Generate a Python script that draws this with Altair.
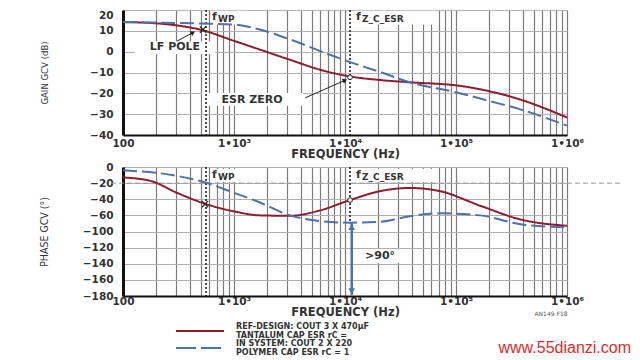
import altair as alt
import pandas as pd

# ---------------- data ----------------
series_names = ["REF-DESIGN", "IN SYSTEM"]

gain_freq_ref = [100, 175, 306, 494, 1000, 1710, 3190, 5910, 11100, 20600, 38300, 108000, 200000, 380000, 1000000]
gain_ref = [14.2, 13.8, 12.6, 10.6, 5.2, 1.0, -3.9, -8.6, -11.9, -13.6, -14.7, -16.4, -19.0, -23.0, -31.6]
gain_freq_sys = [100, 175, 306, 494, 1000, 1710, 3190, 5910, 11100, 20600, 38300, 100000, 200000, 380000, 1000000]
gain_sys = [14.2, 14.0, 13.8, 13.5, 13.0, 10.6, 5.9, 0.4, -5.0, -9.7, -14.7, -19.5, -23.7, -27.7, -35.5]

phase_freq_ref = [100, 175, 306, 560, 1000, 1710, 3190, 5910, 11100, 20600, 38300, 72000, 165000, 380000, 1000000]
phase_ref = [-13, -17, -32, -46, -55, -60, -61, -54, -41, -30, -26, -30, -48, -70, -86]
phase_freq_sys = [100, 306, 560, 1000, 1710, 3190, 5910, 11100, 20600, 38300, 72000, 165000, 380000, 1000000]
phase_sys = [-4, -11, -19.5, -32, -44, -60, -74, -78, -76, -62, -57.5, -60, -82, -90]

gain_ticks = [20, 10, 0, -10, -20, -30, -40]
phase_ticks = [0, -20, -40, -60, -100, -120, -140, -160, -180]
decades = [100, 1000, 10000, 100000, 1000000]
decade_labels = ["100", "1•10³", "1•10⁴", "1•10⁵", "1•10⁶"]

legend_ref = ["REF-DESIGN: COUT 3 X 470µF", "TANTALUM CAP ESR rC ="]
legend_sys = ["IN SYSTEM: COUT 2 X 220", "POLYMER CAP ESR rC = 1"]

f_wp = 560
f_z_esr = 11100
phase_ref_line = -20

# annotation anchor points (data units)
lf_pole = (526, 10.6)
esr_zero = (11100, -12.3)
lf_pole_ph = (548, -46)
esr_zero_ph = (11100, -41)
lf_arrow = (306, 5.0, 427, 9.2)
esr_arrow = (4370, -22.2, 10000, -13.75)
lf_text = (294, 2.2)
esr_text = (1452, -23.1)
lf_box = (128, 674, -1.1, 5.0)
esr_box = (515, 4186, -26.0, -19.8)
fwp_box_top = (608, 1337, 13.0, 19.6)
fz_box_top = (12300, 67400, 13.0, 19.6)
flabel_top_y = 16.5
fwp_box_bot = (608, 1337, -18.6, -2.5)
fz_box_bot = (12300, 67400, -18.6, -2.5)
flabel_bot_y = -10
arrow90 = (11500, -79, -179)
gt90_text = (20700, -130)
gt90_box = (14200, 31300, -139, -122)

# ---------------- style ----------------
W, H_TOP, H_BOT = 444, 125, 129
RED = "#8b1c32"
BLUE = "#4d71a8"
INK = "#222222"
FONT = "DejaVu Sans"
NARROW = "DejaVu Sans Condensed, Liberation Sans, sans-serif"

grid_vals = [k * 10 ** n for n in range(2, 6) for k in range(1, 10)] + [1000000]
label_expr = " : ".join(f"datum.value == {d} ? '{l}'" for d, l in zip(decades, decade_labels)) + " : ''"

x_scale = alt.Scale(type="log", domain=[100, 1000000], nice=False)


def make_x_axis(label_pad):
    return alt.Axis(values=grid_vals, labelExpr=label_expr, title="FREQUENCY (Hz)", ticks=False,
                    grid=True, gridColor="#7a7a7a", gridWidth=1.2, domainColor="#111", domainWidth=2,
                    labelPadding=label_pad, labelFontSize=10.5, labelFontWeight="bold", labelColor="#333",
                    labelOverlap=False, labelFlush=False, titlePadding=0, titleFontSize=11.5,
                    titleFontWeight="bold", titleColor="#333")


y_top_scale = alt.Scale(domain=[-40, 20], nice=False, zero=False)
y_top_axis = alt.Axis(values=gain_ticks, title="GAIN GCV (dB)", ticks=False, grid=True,
                      gridColor="#b0b0b0", domainColor="#111", domainWidth=3, labelPadding=10,
                      labelFontSize=10.5, labelFontWeight="bold", labelColor="#333",
                      labelBaseline={"condition": {"test": "datum.value == 20", "value": "top"}, "value": "middle"},
                      titleX=-74, titleFont=NARROW, titleFontSize=9.5,
                      titleFontWeight="normal", titleColor="#333")

# phase axis as drawn: equal spacing between the printed labels
y_bot_scale = alt.Scale(domain=[-180, -100, -60, 0], range=[H_BOT, H_BOT * 4 / 8, H_BOT * 3 / 8, 0],
                        nice=False, zero=False)
y_bot_axis = alt.Axis(values=phase_ticks, title="PHASE GCV (°)", ticks=False, grid=True,
                      gridColor="#b0b0b0", domainColor="#111", domainWidth=3, labelPadding=10,
                      labelFontSize=10.5, labelFontWeight="bold", labelColor="#333",
                      titleX=-74, titleFont=NARROW, titleFontSize=10.5,
                      titleFontWeight="normal", titleColor="#333")

color_scale = alt.Scale(domain=series_names, range=[RED, BLUE])
dash_scale = alt.Scale(domain=series_names, range=[[1, 0], [14, 5]])


def long_df(fr, vr, fs, vs):
    return pd.DataFrame({
        "f": fr + fs,
        "v": vr + vs,
        "series": [series_names[0]] * len(fr) + [series_names[1]] * len(fs),
    })


def panel(df_lines, x_axis, y_scale, y_axis, h, boxes, text_items, markers_x, markers_o, rules_fn, arrows,
          extra_fn=None):
    def X(field="f"):
        return alt.X(f"{field}:Q", scale=x_scale, axis=x_axis)

    def Y(field="v"):
        return alt.Y(f"{field}:Q", scale=y_scale, axis=y_axis)

    layers = []
    bdf = pd.DataFrame(boxes, columns=["f1", "f2", "v1", "v2"])
    layers.append(alt.Chart(bdf).mark_rect(color="white").encode(
        x=X("f1"), x2="f2:Q", y=Y("v1"), y2="v2:Q"))
    layers += rules_fn(X, Y)
    layers.append(alt.Chart(df_lines).mark_line(strokeWidth=2, interpolate="monotone").encode(
        x=X(), y=Y(),
        color=alt.Color("series:N", scale=color_scale, legend=None),
        strokeDash=alt.StrokeDash("series:N", scale=dash_scale, legend=None),
        detail="series:N"))
    if arrows:
        adf = pd.DataFrame(arrows, columns=["f1", "v1", "f2", "v2", "ang"])
        layers.append(alt.Chart(adf).mark_rule(color=INK, strokeWidth=1).encode(
            x=X("f1"), x2="f2:Q", y=Y("v1"), y2="v2:Q"))
        layers.append(alt.Chart(adf).mark_point(shape="triangle-up", filled=True, size=28, color=INK, opacity=1).encode(
            x=X("f2"), y=Y("v2"), angle=alt.Angle("ang:Q", scale=None)))
    mdf = pd.DataFrame(markers_x, columns=["f", "v"])
    layers.append(alt.Chart(mdf).mark_point(shape="M-1,-1L1,1M-1,1L1,-1", size=40, color=INK, strokeWidth=1.2,
                                            opacity=1).encode(x=X(), y=Y()))
    odf = pd.DataFrame(markers_o, columns=["f", "v"])
    layers.append(alt.Chart(odf).mark_point(shape="circle", size=22, color=INK, fill="white", filled=False,
                                            strokeWidth=1, opacity=1).encode(x=X(), y=Y()))
    for (t, f, v, size, dx, dy, align) in text_items:
        tdf = pd.DataFrame({"f": [f], "v": [v], "t": [t]})
        layers.append(alt.Chart(tdf).mark_text(font=FONT, fontSize=size, fontWeight="bold", color="#333",
                                               align=align, baseline="middle", dx=dx, dy=dy).encode(
            x=X(), y=Y(), text="t:N"))
    if extra_fn:
        layers += extra_fn(X, Y)
    return alt.layer(*layers).properties(width=W, height=h)


# ---------- top: gain ----------
df_gain = long_df(gain_freq_ref, gain_ref, gain_freq_sys, gain_sys)


def top_rules(X, Y):
    vdf = pd.DataFrame({"f": [f_wp, f_z_esr]})
    return [alt.Chart(vdf).mark_rule(strokeDash=[2, 2], strokeWidth=1.6, color=INK).encode(x=X())]


top_texts = [
    ("f", f_wp, flabel_top_y, 11, 6, 0, "left"),
    ("WP", f_wp, flabel_top_y, 9, 12, 2, "left"),
    ("f", f_z_esr, flabel_top_y, 11, 6, 0, "left"),
    ("Z_C_ESR", f_z_esr, flabel_top_y, 9, 12, 2, "left"),
    ("LF POLE", lf_text[0], lf_text[1], 11, 0, 0, "center"),
    ("ESR ZERO", esr_text[0], esr_text[1], 11, 0, 0, "center"),
]
top = panel(df_gain, make_x_axis(3), y_top_scale, y_top_axis, H_TOP,
            [lf_box, esr_box, fwp_box_top, fz_box_top], top_texts,
            [lf_pole], [esr_zero], top_rules,
            [(lf_arrow[0], lf_arrow[1], lf_arrow[2], lf_arrow[3], 61),
             (esr_arrow[0], esr_arrow[1], esr_arrow[2], esr_arrow[3], 66)])

# ---------- bottom: phase ----------
df_phase = long_df(phase_freq_ref, phase_ref, phase_freq_sys, phase_sys)


def bot_rules(X, Y):
    return [
        alt.Chart(pd.DataFrame({"v": [phase_ref_line]})).mark_rule(strokeDash=[5, 3], color="#999",
                                                                   strokeWidth=1).encode(
            y=Y(), x=alt.value(-12), x2=alt.value(W + 53)),
        alt.Chart(pd.DataFrame({"f": [f_wp]})).mark_rule(strokeDash=[2, 2], strokeWidth=1.6, color=INK).encode(x=X()),
        alt.Chart(pd.DataFrame({"f": [f_z_esr], "v1": [0], "v2": [arrow90[1]]})).mark_rule(
            strokeDash=[2, 2], strokeWidth=1.6, color=INK).encode(x=X(), y=Y("v1"), y2="v2:Q"),
    ]


def bot_extra(X, Y):
    a90 = pd.DataFrame({"f": [arrow90[0]], "v1": [arrow90[1]], "v2": [arrow90[2]]})
    return [
        alt.Chart(a90).mark_rule(color=BLUE, strokeWidth=2.5).encode(x=X(), y=Y("v1"), y2="v2:Q"),
        alt.Chart(a90).mark_point(shape="triangle-up", filled=True, size=45, color=BLUE, opacity=1).encode(
            x=X(), y=Y("v1"), yOffset=alt.value(4)),
        alt.Chart(a90).mark_point(shape="triangle-down", filled=True, size=45, color=BLUE, opacity=1).encode(
            x=X(), y=Y("v2"), yOffset=alt.value(-4)),
        # legend
        alt.Chart(pd.DataFrame({"s": [series_names[0]]})).mark_rule(color=RED, strokeWidth=2).encode(
            x=alt.value(53), x2=alt.value(101), y=alt.value(164)),
        alt.Chart(pd.DataFrame({"s": [series_names[1]]})).mark_rule(color=BLUE, strokeWidth=2,
                                                                    strokeDash=[20, 5]).encode(
            x=alt.value(53), x2=alt.value(101), y=alt.value(181)),
        alt.Chart(pd.DataFrame({"s": [series_names[0]]})).mark_text(
            font=FONT, fontSize=8, fontWeight="bold", color="#333", align="left", baseline="top",
            lineHeight=8.5).encode(x=alt.value(113), y=alt.value(156), text=alt.value(legend_ref)),
        alt.Chart(pd.DataFrame({"s": [series_names[1]]})).mark_text(
            font=FONT, fontSize=8, fontWeight="bold", color="#333", align="left", baseline="top",
            lineHeight=8.5).encode(x=alt.value(113), y=alt.value(173), text=alt.value(legend_sys)),
        alt.Chart(pd.DataFrame({"s": ["note"]})).mark_text(
            font=FONT, fontSize=6, color="#555", align="center", baseline="middle").encode(
            x=alt.value(428), y=alt.value(147), text=alt.value("AN149 F18")),
        alt.Chart(pd.DataFrame({"s": ["wm"]})).mark_text(
            font="Liberation Sans", fontSize=16, color="#e02a2a", align="right", baseline="middle").encode(
            x=alt.value(508), y=alt.value(181), text=alt.value("www.55dianzi.com")),
    ]


bot_texts = [
    ("f", f_wp, flabel_bot_y, 11, 6, 0, "left"),
    ("WP", f_wp, flabel_bot_y, 9, 12, 2, "left"),
    ("f", f_z_esr, flabel_bot_y, 11, 6, 0, "left"),
    ("Z_C_ESR", f_z_esr, flabel_bot_y, 9, 12, 2, "left"),
    (">90°", gt90_text[0], gt90_text[1], 11, 0, 0, "center"),
]
bottom = panel(df_phase, make_x_axis(0), y_bot_scale, y_bot_axis, H_BOT,
               [fwp_box_bot, fz_box_bot, gt90_box], bot_texts,
               [lf_pole_ph], [esr_zero_ph], bot_rules, [], extra_fn=bot_extra)

chart = alt.vconcat(top, bottom, spacing=0).properties(
    padding={"left": 30, "top": 0, "right": 0, "bottom": 0},
    background="white",
).configure_view(stroke="#111", strokeWidth=1.5).configure(font=FONT)

chart.save("out.html", embed_options={"renderer": "svg", "actions": False})
